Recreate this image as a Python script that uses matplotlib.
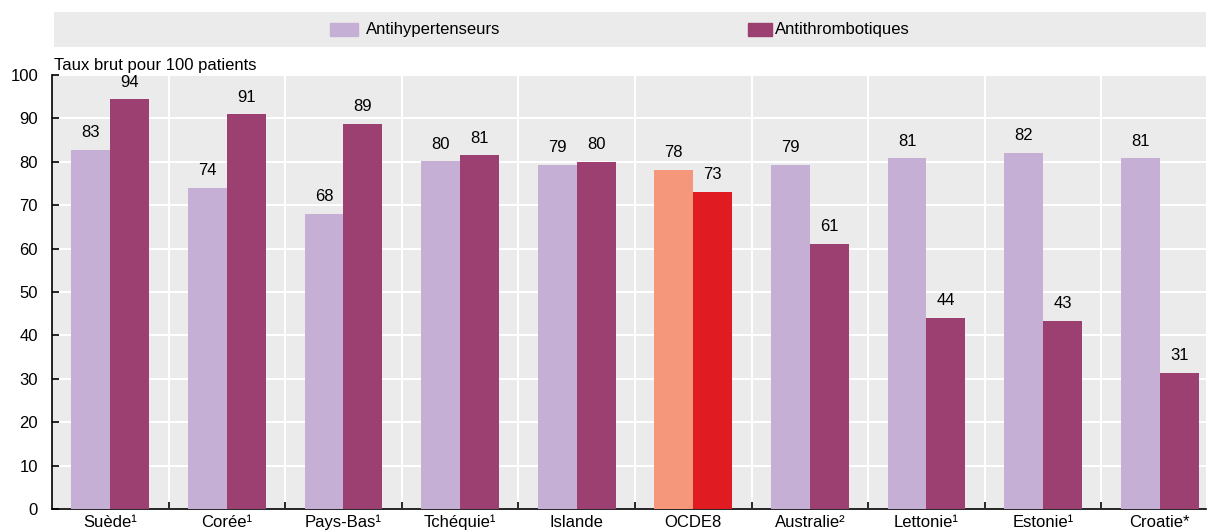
import matplotlib
matplotlib.use('Agg')
import matplotlib.pyplot as plt
import numpy as np
from matplotlib.patches import Rectangle

plt.rcParams['font.family'] = ['Liberation Sans', 'DejaVu Sans']

# data
countries = ['Suède¹', 'Corée¹', 'Pays-Bas¹', 'Tchéquie¹', 'Islande', 'OCDE8',
             'Australie²', 'Lettonie¹', 'Estonie¹', 'Croatie*']
antihyp = [82.8, 74.0, 68.0, 80.1, 79.3, 78.1, 79.3, 80.8, 82.0, 80.8]
antithr = [94.4, 90.9, 88.7, 81.5, 80.0, 73.0, 61.1, 44.0, 43.3, 31.3]
antihyp_lbl = [83, 74, 68, 80, 79, 78, 79, 81, 82, 81]
antithr_lbl = [94, 91, 89, 81, 80, 73, 61, 44, 43, 31]
highlight = 'OCDE8'

c_light = '#C6AFD4'
c_dark = '#9B4070'
c_light_hl = '#F4977A'
c_dark_hl = '#E01B22'

fs = 12

fig = plt.figure(figsize=(12.08, 5.32), dpi=100)
ax = fig.add_axes([52 / 1208, 1 - 509 / 532, 1154 / 1208, 434 / 532])
ax.set_facecolor('#EBEBEB')

x = np.arange(len(countries))
w = 0.334
cols1 = [c_light_hl if c == highlight else c_light for c in countries]
cols2 = [c_dark_hl if c == highlight else c_dark for c in countries]
b1 = ax.bar(x - w / 2, antihyp, w, color=cols1, zorder=3)
b2 = ax.bar(x + w / 2, antithr, w, color=cols2, zorder=3)

for bars, lbls in ((b1, antihyp_lbl), (b2, antithr_lbl)):
    for b, l in zip(bars, lbls):
        ax.annotate(str(l), (b.get_x() + b.get_width() / 2, b.get_height()),
                    xytext=(0, 7), textcoords='offset points',
                    ha='center', va='bottom', fontsize=fs)

group_px = 116.6
ax.set_xlim(-0.5, -0.5 + 1154 / group_px)
ax.set_ylim(0, 100)
ax.set_yticks(range(0, 101, 10))
ax.set_xticks(x)
ax.set_xticklabels(countries, fontsize=fs)
ax.set_xticks(np.arange(0.5, len(countries) - 1, 1), minor=True)
ax.tick_params(axis='x', which='major', length=0, pad=4)
ax.tick_params(axis='x', which='minor', direction='in', length=5, width=1.2)
ax.tick_params(axis='y', direction='in', length=5, width=1.2, labelsize=fs, pad=10)
ax.grid(axis='y', color='white', linewidth=1.5, zorder=0)
ax.grid(axis='x', which='minor', color='white', linewidth=1.5, zorder=0)
ax.set_axisbelow(True)
for s in ('top', 'right'):
    ax.spines[s].set_visible(False)
ax.spines['left'].set_linewidth(1.2)
ax.spines['bottom'].set_linewidth(1.2)

fig.text(54 / 1208, 1 - 70 / 532, 'Taux brut pour 100 patients', fontsize=fs,
         ha='left', va='baseline')

# legend band
lax = fig.add_axes([54 / 1208, 1 - 47 / 532, 1152 / 1208, 35 / 532])
lax.set_facecolor('#EBEBEB')
lax.set_xlim(0, 1152)
lax.set_ylim(0, 35)
lax.set_xticks([])
lax.set_yticks([])
for s in lax.spines.values():
    s.set_visible(False)
lax.add_patch(Rectangle((276, 11), 28, 13, color=c_light))
lax.text(312, 17.5, 'Antihypertenseurs', fontsize=fs, va='center', ha='left')
lax.add_patch(Rectangle((694, 11), 24, 13, color=c_dark))
lax.text(721, 17.5, 'Antithrombotiques', fontsize=fs, va='center', ha='left')

fig.savefig('out.png', dpi=100)
